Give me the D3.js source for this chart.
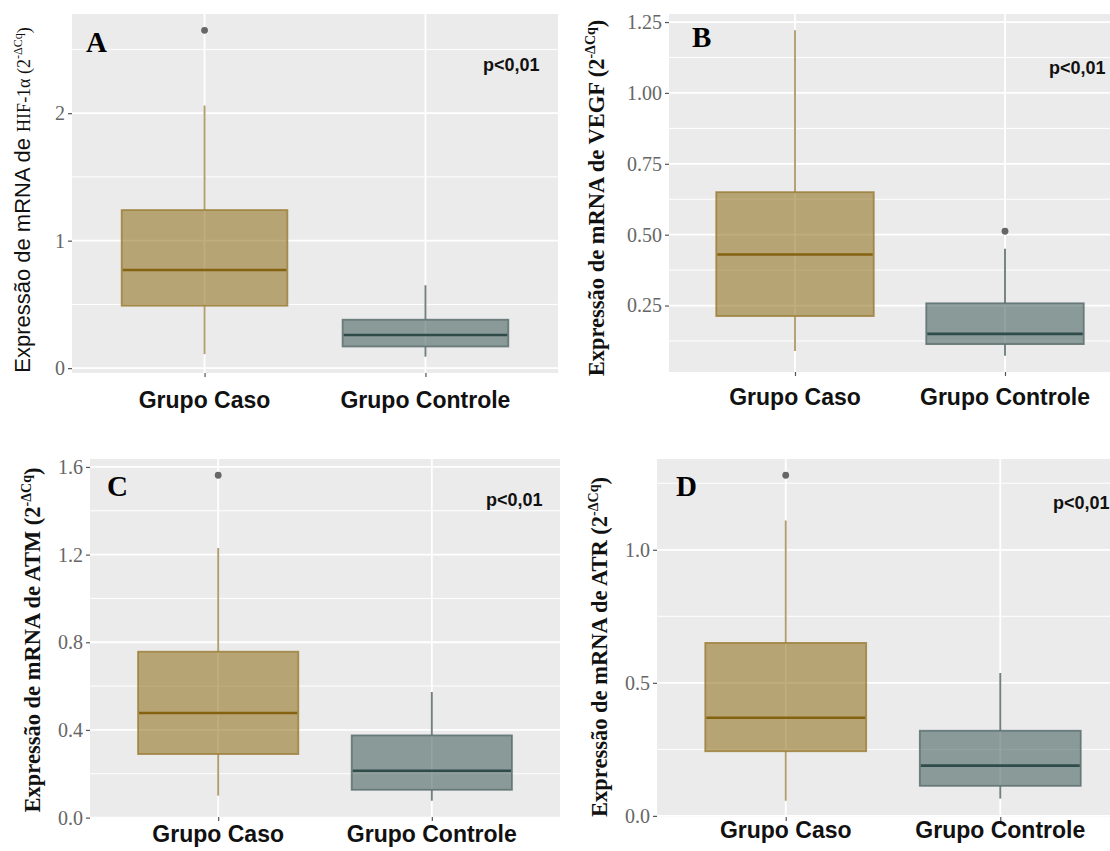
<!DOCTYPE html>
<html>
<head>
<meta charset="utf-8">
<script src="https://cdn.jsdelivr.net/npm/d3@7"></script>
<style>
  html, body { margin: 0; padding: 0; background: #ffffff; }
  svg { display: block; }
</style>
</head>
<body>
<svg id="chart" width="1110" height="851"></svg>
<script>
// Groups on the x axis
const categories = ["Grupo Caso", "Grupo Controle"];

// Five-number summaries per group: [lower whisker, Q1, median, Q3, upper whisker]
const hif1aCaso = [0.11, 0.49, 0.77, 1.24, 2.06];
const hif1aControle = [0.09, 0.17, 0.26, 0.38, 0.65];
const hif1aOutliers = [[2.65], []];

const vegfCaso = [0.09, 0.213, 0.43, 0.65, 1.221];
const vegfControle = [0.073, 0.114, 0.15, 0.258, 0.45];
const vegfOutliers = [[], [0.512]];

const atmCaso = [0.10, 0.29, 0.477, 0.757, 1.23];
const atmControle = [0.077, 0.127, 0.214, 0.375, 0.573];
const atmOutliers = [[1.562], []];

const atrCaso = [0.057, 0.243, 0.369, 0.65, 1.11];
const atrControle = [0.065, 0.113, 0.189, 0.32, 0.537];
const atrOutliers = [[1.28], []];

// Axis ticks
const hif1aTicks = [0, 1, 2];
const vegfTicks = [0.25, 0.50, 0.75, 1.00, 1.25];
const atmTicks = [0, 0.4, 0.8, 1.2, 1.6];
const atrTicks = [0, 0.5, 1.0];

const panelLetters = ["A", "B", "C", "D"];
const genes = ["HIF-1α", "VEGF", "ATM", "ATR"];
const pText = "p<0,01";

const svg = d3.select("#chart");

const styleCaso = { fill: "#8b6914", border: "#9c7f3a", median: "#85620f", whisker: "#b29d6e" };
const styleControle = { fill: "#3b5854", border: "#5c706e", median: "#2f4c4a", whisker: "#70817f" };

const panels = [
  { letter: panelLetters[0], gene: genes[0], stats: [hif1aCaso, hif1aControle], outliers: hif1aOutliers,
    ticks: hif1aTicks, fmt: d3.format("d"),
    left: 72, right: 558, top: 14, bottom: 373,
    labelX: 30, labelY: 200, mixedLabel: true,
    letterX: 86, letterY: 52, pX: 483, pY: 71, xLabY: 408 },
  { letter: panelLetters[1], gene: genes[1], stats: [vegfCaso, vegfControle], outliers: vegfOutliers,
    ticks: vegfTicks, fmt: d3.format(".2f"),
    left: 669, right: 1131, top: 14, bottom: 372,
    labelX: 604, labelY: 198, mixedLabel: false,
    letterX: 692, letterY: 47, pX: 1049, pY: 74, xLabY: 405 },
  { letter: panelLetters[2], gene: genes[2], stats: [atmCaso, atmControle], outliers: atmOutliers,
    ticks: atmTicks, fmt: d3.format(".1f"),
    left: 90, right: 560, top: 459, bottom: 817,
    labelX: 40, labelY: 640, mixedLabel: false,
    letterX: 107, letterY: 496, pX: 486, pY: 506, xLabY: 842 },
  { letter: panelLetters[3], gene: genes[3], stats: [atrCaso, atrControle], outliers: atrOutliers,
    ticks: atrTicks, fmt: d3.format(".1f"),
    left: 657, right: 1129, top: 459, bottom: 817,
    labelX: 607, labelY: 647, mixedLabel: false,
    letterX: 676, letterY: 496, pX: 1053, pY: 509, xLabY: 838 }
];

panels.forEach(drawPanel);

function drawPanel(p) {
  const g = svg.append("g");

  // Data range with a 5% expansion on each side
  const all = p.stats.flat().concat(p.outliers.flat());
  const lo = d3.min(all), hi = d3.max(all);
  const pad = (hi - lo) * 0.05;
  const y = d3.scaleLinear().domain([lo - pad, hi + pad]).range([p.bottom, p.top]);
  const x = d3.scalePoint().domain(categories).range([p.left, p.right]).padding(0.6);
  const boxW = x.step() * 0.75;

  // Panel background
  g.append("rect")
    .attr("x", p.left).attr("y", p.top)
    .attr("width", p.right - p.left).attr("height", p.bottom - p.top)
    .attr("fill", "#ebebeb");

  // Minor grid lines halfway between major ticks
  const step = p.ticks[1] - p.ticks[0];
  const [d0, d1] = y.domain();
  const minor = [];
  for (let v = p.ticks[0] - step / 2; v <= d1; v += step) {
    if (v >= d0) minor.push(v);
  }
  g.selectAll(".minor").data(minor).join("line")
    .attr("x1", p.left).attr("x2", p.right)
    .attr("y1", d => y(d)).attr("y2", d => y(d))
    .attr("stroke", "#ffffff").attr("stroke-width", 1);

  // Major grid lines
  g.selectAll(".major").data(p.ticks).join("line")
    .attr("x1", p.left).attr("x2", p.right)
    .attr("y1", d => y(d)).attr("y2", d => y(d))
    .attr("stroke", "#ffffff").attr("stroke-width", 1.8);
  g.selectAll(".vmajor").data(categories).join("line")
    .attr("x1", d => x(d)).attr("x2", d => x(d))
    .attr("y1", p.top).attr("y2", p.bottom)
    .attr("stroke", "#ffffff").attr("stroke-width", 1.8);

  // Y axis
  const yAxis = d3.axisLeft(y).tickValues(p.ticks).tickFormat(p.fmt).tickSize(4).tickPadding(3);
  const ya = g.append("g").attr("transform", `translate(${p.left},0)`).call(yAxis);
  ya.select(".domain").remove();
  ya.selectAll(".tick line").attr("stroke", "#555").attr("stroke-width", 1.2);
  ya.selectAll(".tick text")
    .attr("fill", "#666666")
    .style("font-family", "'Liberation Serif', 'Times New Roman', serif")
    .style("font-size", "20px");

  // X axis
  const xAxis = d3.axisBottom(x).tickSize(4).tickPadding(6);
  const xa = g.append("g").attr("transform", `translate(0,${p.bottom})`).call(xAxis);
  xa.select(".domain").remove();
  xa.selectAll(".tick line").attr("stroke", "#555").attr("stroke-width", 1.2);
  xa.selectAll(".tick text").remove();
  g.selectAll(".xlab").data(categories).join("text")
    .attr("x", d => x(d)).attr("y", p.xLabY)
    .attr("text-anchor", "middle")
    .attr("fill", "#111")
    .style("font-family", "'Liberation Sans', Arial, sans-serif")
    .style("font-weight", "bold")
    .style("font-size", "23px")
    .text(d => d);

  // Boxes
  const styles = [styleCaso, styleControle];
  categories.forEach((c, i) => {
    const s = p.stats[i];
    const st = styles[i];
    const cx = x(c);
    // whiskers
    g.append("line").attr("x1", cx).attr("x2", cx).attr("y1", y(s[3])).attr("y2", y(s[4]))
      .attr("stroke", st.whisker).attr("stroke-width", 1.9);
    g.append("line").attr("x1", cx).attr("x2", cx).attr("y1", y(s[1])).attr("y2", y(s[0]))
      .attr("stroke", st.whisker).attr("stroke-width", 1.9);
    // box
    g.append("rect")
      .attr("x", cx - boxW / 2).attr("y", y(s[3]))
      .attr("width", boxW).attr("height", y(s[1]) - y(s[3]))
      .attr("fill", st.fill).attr("fill-opacity", 0.55)
      .attr("stroke", st.border).attr("stroke-width", 1.8).attr("stroke-opacity", 0.85);
    // median
    g.append("line")
      .attr("x1", cx - boxW / 2 + 1).attr("x2", cx + boxW / 2 - 1)
      .attr("y1", y(s[2])).attr("y2", y(s[2]))
      .attr("stroke", st.median).attr("stroke-width", 2.6);
    // outliers
    g.selectAll(null).data(p.outliers[i]).join("circle")
      .attr("cx", cx).attr("cy", d => y(d)).attr("r", 3.4)
      .attr("fill", "#666666");
  });

  // Panel letter
  g.append("text")
    .attr("x", p.letterX).attr("y", p.letterY)
    .attr("fill", "#000")
    .style("font-family", "'Liberation Serif', 'Times New Roman', serif")
    .style("font-weight", "bold")
    .style("font-size", "29px")
    .text(p.letter);

  // Significance label
  g.append("text")
    .attr("x", p.pX).attr("y", p.pY)
    .attr("fill", "#111")
    .style("font-family", "'Liberation Sans', Arial, sans-serif")
    .style("font-weight", "bold")
    .style("font-size", "18px")
    .text(pText);

  // Y axis title
  const t = g.append("text")
    .attr("transform", `translate(${p.labelX},${p.labelY}) rotate(-90)`)
    .attr("text-anchor", "middle")
    .attr("fill", "#111");
  if (p.mixedLabel) {
    t.append("tspan")
      .style("font-family", "'Liberation Sans', Arial, sans-serif")
      .style("font-size", "22px")
      .text("Expressão de mRNA de ");
    const s = t.append("tspan")
      .style("font-family", "'Liberation Serif', 'Times New Roman', serif")
      .style("font-size", "18px");
    s.append("tspan").text(p.gene + " (2");
    s.append("tspan").attr("dy", -8).style("font-size", "12px").text("-ΔCq");
    s.append("tspan").attr("dy", 8).text(")");
  } else {
    t.style("font-family", "'Liberation Serif', 'Times New Roman', serif")
      .style("font-weight", "bold")
      .style("font-size", "22.5px");
    t.append("tspan").text("Expressão de mRNA de " + p.gene + " (2");
    t.append("tspan").attr("dy", -9).style("font-size", "14px").text("-ΔCq");
    t.append("tspan").attr("dy", 9).text(")");
  }
}
</script>
</body>
</html>
